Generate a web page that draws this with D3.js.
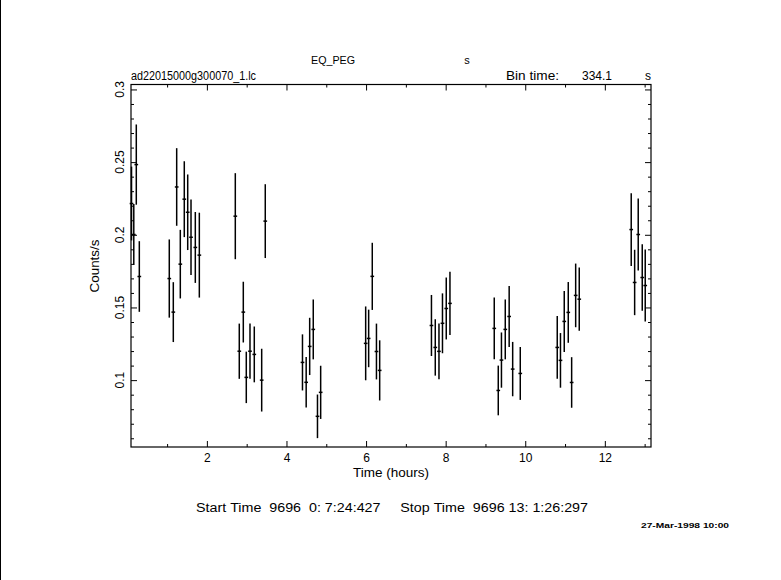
<!DOCTYPE html>
<html><head><meta charset="utf-8">
<script src="https://cdn.jsdelivr.net/npm/d3@7"></script>
<style>
html,body{margin:0;padding:0;background:#fff;}
svg text{font-family:"Liberation Sans",Arial,sans-serif;fill:#000;}
</style></head>
<body>
<svg id="c" width="781" height="580"></svg>
<script>
// ---- data ----
const timeHours = [0.106,0.163,0.226,0.302,1.055,1.156,1.241,1.332,1.432,1.518,1.601,1.709,1.810,
  2.714,2.814,2.915,2.990,3.083,3.191,3.377,3.467,
  4.402,4.495,4.583,4.673,4.779,4.859,
  5.990,6.065,6.156,6.261,6.342,
  7.643,7.739,7.832,7.920,8.015,8.108,
  9.221,9.322,9.402,9.498,9.596,9.684,9.875,
  10.804,10.885,10.980,11.081,11.166,11.267,11.357,
  12.663,12.749,12.839,12.940,13.015];
const countRate = [0.2215,0.2002,0.2483,0.1713,0.1699,0.1468,0.2329,0.1798,0.2245,0.2155,0.1983,0.1913,0.1860,
  0.2128,0.1199,0.1468,0.1019,0.1199,0.1177,0.1000,0.2094,
  0.1122,0.0985,0.1232,0.1349,0.0751,0.0916,
  0.1253,0.1287,0.1714,0.1197,0.1067,
  0.1376,0.1225,0.1198,0.1391,0.1493,0.1528,
  0.1356,0.0929,0.1138,0.1349,0.1438,0.1076,0.1046,
  0.1225,0.1136,0.1404,0.1466,0.0984,0.1583,0.1557,
  0.2036,0.1672,0.2002,0.1706,0.1651];
const rateError = [0.0254,0.0210,0.0276,0.0243,0.0269,0.0206,0.0267,0.0236,0.0261,0.0260,0.0260,0.0244,0.0292,
  0.0296,0.0190,0.0209,0.0177,0.0190,0.0192,0.0216,0.0254,
  0.0193,0.0174,0.0197,0.0206,0.0150,0.0183,
  0.0254,0.0198,0.0231,0.0192,0.0207,
  0.0210,0.0194,0.0192,0.0206,0.0213,0.0217,
  0.0213,0.0171,0.0190,0.0206,0.0210,0.0187,0.0182,
  0.0216,0.0188,0.0210,0.0209,0.0174,0.0219,0.0218,
  0.0250,0.0225,0.0247,0.0229,0.0247];
const binTimeSec = 334.1;
const xMajorTicks = [2,4,6,8,10,12];
const xMinorTicks = [1,3,5,7,9,11,13];
const yMajorTicks = [0.1,0.15,0.2,0.25,0.3];
const yMinorTicks = [0.06,0.07,0.08,0.09,0.11,0.12,0.13,0.14,0.16,0.17,0.18,0.19,0.21,0.22,0.23,0.24,0.26,0.27,0.28,0.29];
const yTickLabels = ["0.1","0.15","0.2","0.25","0.3"];

// ---- layout ----
const L=131, R=651, T=84.5, B=447;
const svg = d3.select("#c");
const x = d3.scaleLinear().domain([0.093,13.16]).range([L,R]);
const y = d3.scaleLinear().domain([0.054,0.3034]).range([B,T]);

// left border line of page
svg.append("line").attr("x1",0.5).attr("x2",0.5).attr("y1",0).attr("y2",580).attr("stroke","#000").attr("stroke-width",1);

function styleAxis(g){ g.select(".domain").remove(); g.selectAll("line").attr("stroke","#000").attr("stroke-width",1); }

// bottom axis (major with labels, minor)
svg.append("g").attr("transform",`translate(0,${B})`)
  .call(d3.axisBottom(x).tickValues(xMajorTicks).tickSizeInner(-6).tickSizeOuter(0).tickPadding(6).tickFormat(d3.format("d")))
  .call(styleAxis).call(g=>g.selectAll("text").attr("font-size",12).attr("fill","#000").attr("font-family","Liberation Sans, Arial, sans-serif"));
svg.append("g").attr("transform",`translate(0,${B})`)
  .call(d3.axisBottom(x).tickValues(xMinorTicks).tickSizeInner(-3).tickSizeOuter(0).tickFormat(""))
  .call(styleAxis);
// top axis
svg.append("g").attr("transform",`translate(0,${T})`)
  .call(d3.axisTop(x).tickValues(xMajorTicks).tickSizeInner(-6).tickSizeOuter(0).tickFormat(""))
  .call(styleAxis);
svg.append("g").attr("transform",`translate(0,${T})`)
  .call(d3.axisTop(x).tickValues(xMinorTicks).tickSizeInner(-3).tickSizeOuter(0).tickFormat(""))
  .call(styleAxis);
// left axis
svg.append("g").attr("transform",`translate(${L},0)`)
  .call(d3.axisLeft(y).tickValues(yMajorTicks).tickSizeInner(-6).tickSizeOuter(0).tickFormat(""))
  .call(styleAxis);
svg.append("g").attr("transform",`translate(${L},0)`)
  .call(d3.axisLeft(y).tickValues(yMinorTicks).tickSizeInner(-3).tickSizeOuter(0).tickFormat(""))
  .call(styleAxis);
// right axis
svg.append("g").attr("transform",`translate(${R},0)`)
  .call(d3.axisRight(y).tickValues(yMajorTicks).tickSizeInner(-6).tickSizeOuter(0).tickFormat(""))
  .call(styleAxis);
svg.append("g").attr("transform",`translate(${R},0)`)
  .call(d3.axisRight(y).tickValues(yMinorTicks).tickSizeInner(-3).tickSizeOuter(0).tickFormat(""))
  .call(styleAxis);

// rotated y tick labels
svg.append("g").selectAll("text").data(yMajorTicks).join("text")
  .attr("transform",(d)=>`translate(124,${y(d)}) rotate(-90)`)
  .attr("text-anchor","middle").attr("font-size",12)
  .text((d,i)=>yTickLabels[i]);

// frame
svg.append("rect").attr("x",L).attr("y",T).attr("width",R-L).attr("height",B-T)
  .attr("fill","none").attr("stroke","#000").attr("stroke-width",1.2);

// error bars
const halfBin = binTimeSec/3600/2;
const pts = timeHours.map((t,i)=>({t, v:countRate[i], e:rateError[i]}));
const gp = svg.append("g").attr("stroke","#000").attr("stroke-width",1.5);
gp.selectAll("line.v").data(pts).join("line").attr("class","v")
  .attr("x1",d=>x(d.t)).attr("x2",d=>x(d.t))
  .attr("y1",d=>y(d.v+d.e)).attr("y2",d=>y(d.v-d.e));
gp.selectAll("line.h").data(pts).join("line").attr("class","h")
  .attr("x1",d=>x(d.t-halfBin)).attr("x2",d=>x(d.t+halfBin))
  .attr("y1",d=>y(d.v)).attr("y2",d=>y(d.v));

// texts
function txt(xp, yp, s, size, len, anchor){
  const t = svg.append("text").attr("x",xp).attr("y",yp).attr("font-size",size).text(s);
  if (anchor) t.attr("text-anchor",anchor);
  if (len) t.attr("textLength",len).attr("lengthAdjust","spacingAndGlyphs");
  return t;
}
const NB = "\u00A0";
txt(333,64,"EQ_PEG",11,44,"middle");
txt(467,64,"s",11,null,"middle");
txt(131,80,"ad22015000g300070_1.lc",12,125);
txt(506,80,"Bin time:",12,53);
txt(582,80,"334.1",12,30);
txt(645,80,"s",12);
txt(391,477,"Time (hours)",12,76,"middle");
svg.append("text").attr("transform","translate(99,266) rotate(-90)").attr("text-anchor","middle")
  .attr("font-size",12).attr("textLength",53).attr("lengthAdjust","spacingAndGlyphs").text("Counts/s");
const startStop = "Start Time  9696  0: 7:24:427     Stop Time  9696 13: 1:26:297".replace(/ /g, NB);
txt(196,512,startStop,12.5,392);
txt(641,528,"27-Mar-1998 10:00",8,88).attr("font-weight","bold");
</script>
</body></html>
